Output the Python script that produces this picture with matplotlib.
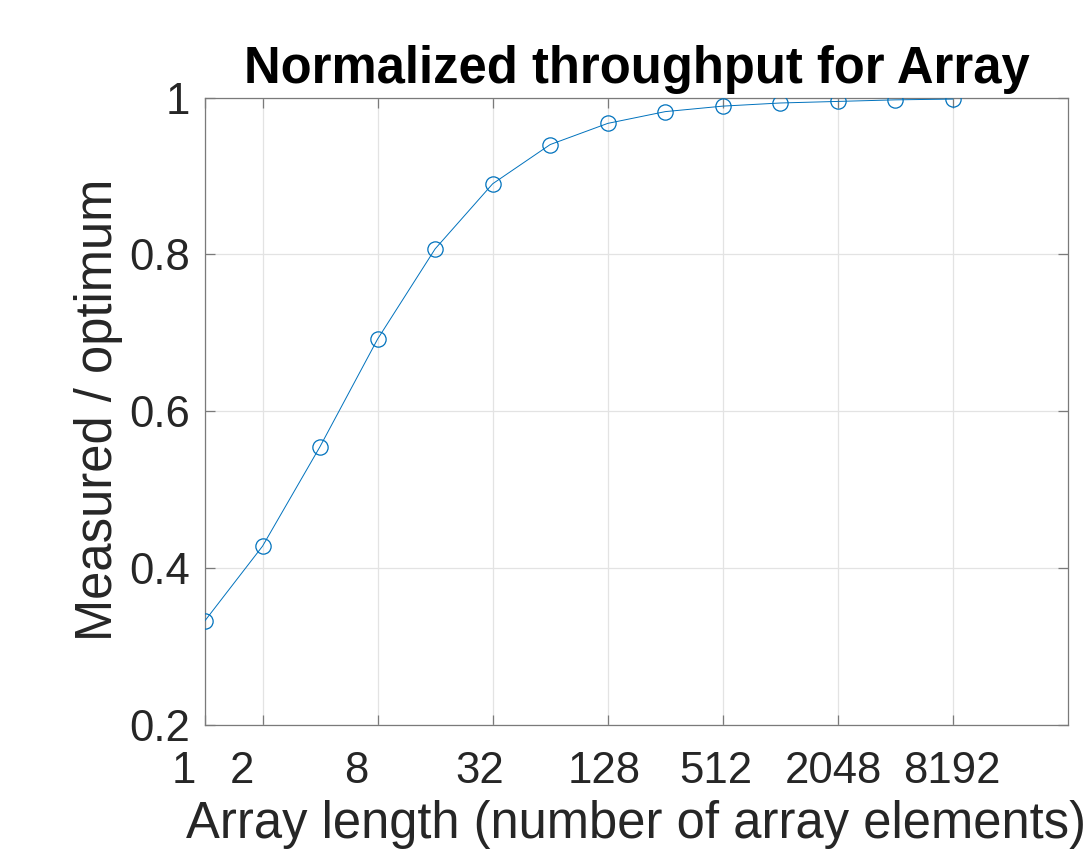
#!/usr/bin/env python3
"""Normalized throughput for Array - measured / optimum vs array length."""

import matplotlib
matplotlib.use('Agg')
import matplotlib.pyplot as plt
import matplotlib.transforms as mtransforms
from matplotlib.ticker import NullLocator

# Data
array_lengths = [1, 2, 4, 8, 16, 32, 64, 128, 256, 512, 1024, 2048, 4096, 8192]
throughput_ratio = [0.333, 0.428, 0.555, 0.692, 0.807, 0.890, 0.940,
                    0.967, 0.982, 0.989, 0.993, 0.995, 0.997, 0.998]

x_tick_values = [1, 2, 8, 32, 128, 512, 2048, 8192]
x_tick_labels = ['1', '2', '8', '32', '128', '512', '2048', '8192']
y_tick_values = [0.2, 0.4, 0.6, 0.8, 1.0]
y_tick_labels = ['0.2', '0.4', '0.6', '0.8', '1']

title_text = 'Normalized throughput for Array'
x_label_text = 'Array length (number of array elements)'
y_label_text = 'Measured / optimum'

# Look and feel (MATLAB-ish)
LINE_COLOR = '#0072BD'
TEXT_COLOR = '#262626'
SPINE_COLOR = '#7a7a7a'
GRID_COLOR = '#e3e3e3'
TICK_FS = 31.5
LABEL_FS = 36.5

# the reference has the x tick labels nudged left a bit (pixels)
x_label_nudge = [-21, -21, -21, -13, -4, -7, -4, -1]

plt.rcParams['font.family'] = ['Liberation Sans', 'DejaVu Sans']

W, H = 1091, 851
fig = plt.figure(figsize=(W / 100, H / 100), dpi=100)
ax = fig.add_axes([205 / W, 1 - 725 / H, (1068 - 205) / W, (725 - 97.5) / H])

ax.plot(array_lengths, throughput_ratio, color=LINE_COLOR, linewidth=0.7,
        marker='o', markersize=11, markerfacecolor='none',
        markeredgecolor=LINE_COLOR, markeredgewidth=0.9, zorder=3)

ax.set_xscale('log', base=2)
ax.set_xlim(1, 32768)
ax.set_ylim(0.2, 1.0)
ax.set_xticks(x_tick_values)
ax.set_xticklabels(x_tick_labels)
ax.set_yticks(y_tick_values)
ax.set_yticklabels(y_tick_labels)
ax.xaxis.set_minor_locator(NullLocator())
ax.yaxis.set_minor_locator(NullLocator())

ax.grid(True, color=GRID_COLOR, linewidth=0.9)
ax.set_axisbelow(True)
for spine in ax.spines.values():
    spine.set_color(SPINE_COLOR)
    spine.set_linewidth(0.9)

ax.tick_params(axis='both', direction='in', length=7.2, width=0.9,
               color=SPINE_COLOR, labelcolor=TEXT_COLOR,
               labelsize=TICK_FS, top=True, right=True)
ax.tick_params(axis='x', pad=18.5)
ax.tick_params(axis='y', pad=10.5)

for lbl, dx in zip(ax.get_xticklabels(), x_label_nudge):
    shift = mtransforms.ScaledTranslation(dx / 100, 0, fig.dpi_scale_trans)
    lbl.set_transform(lbl.get_transform() + shift)

ax_cx = (205 + 1068) / 2 / W
fig.text(ax_cx, 1 - 83 / H, title_text, ha='center', va='baseline',
         fontsize=LABEL_FS, fontweight='bold', color='black')
# x label sits right at the bottom edge, like the reference
fig.text(ax_cx, 1 - 838 / H, x_label_text, ha='center', va='baseline',
         fontsize=LABEL_FS, color=TEXT_COLOR)
fig.text(112 / W, 1 - 410 / H, y_label_text, rotation=90,
         rotation_mode='anchor', ha='center', va='baseline',
         fontsize=LABEL_FS, color=TEXT_COLOR)

fig.savefig('out.png', dpi=100)
plt.close(fig)
